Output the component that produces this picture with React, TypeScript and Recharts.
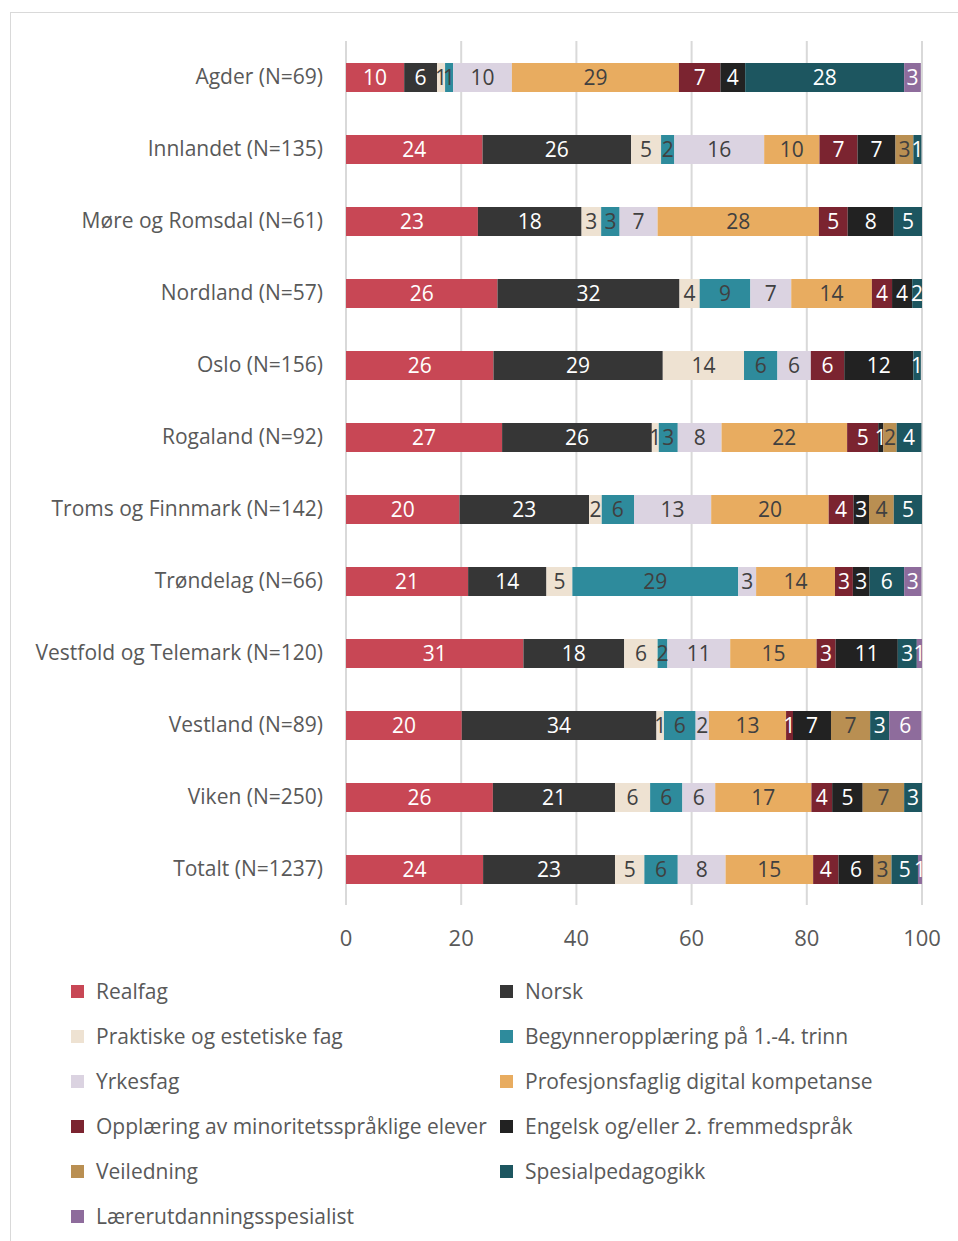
import { BarChart, Bar, XAxis, YAxis, CartesianGrid, LabelList } from 'recharts';

const categories = [
  'Agder (N=69)',
  'Innlandet (N=135)',
  'Møre og Romsdal (N=61)',
  'Nordland (N=57)',
  'Oslo (N=156)',
  'Rogaland (N=92)',
  'Troms og Finnmark (N=142)',
  'Trøndelag (N=66)',
  'Vestfold og Telemark (N=120)',
  'Vestland (N=89)',
  'Viken (N=250)',
  'Totalt (N=1237)',
];

const realfag = [10.1, 23.7, 22.9, 26.3, 25.6, 27.1, 19.7, 21.2, 30.8, 20.1, 25.5, 23.8];
const norsk = [5.7, 25.8, 18.0, 31.6, 29.4, 26.0, 22.5, 13.6, 17.5, 33.8, 21.2, 22.9];
const praktiske = [1.4, 5.2, 3.4, 3.5, 14.1, 1.2, 2.2, 4.5, 5.8, 1.3, 6.1, 5.1];
const begynner = [1.4, 2.3, 3.2, 8.8, 5.8, 3.3, 5.6, 28.8, 1.7, 5.5, 5.6, 5.8];
const yrkesfag = [10.2, 15.6, 6.6, 7.1, 5.8, 7.6, 13.4, 3.1, 10.9, 2.3, 5.7, 8.3];
const digital = [29.0, 9.6, 28.0, 14.0, 0, 21.8, 20.4, 13.7, 15.0, 13.4, 16.7, 15.2];
const minoritet = [7.2, 6.6, 5.0, 3.5, 5.8, 5.4, 4.3, 3.1, 3.3, 1.2, 3.6, 4.4];
const engelsk = [4.3, 6.6, 8.0, 3.5, 12.0, 0.9, 2.7, 2.9, 10.8, 6.6, 5.3, 6.1];
const veiledning = [0, 3.1, 0, 0, 0, 2.3, 4.3, 0, 0, 6.8, 7.2, 3.1];
const spesialped = [27.6, 1.4, 5.0, 1.7, 1.3, 4.3, 4.9, 6.0, 3.3, 3.3, 3.1, 4.6];
const spesialist = [2.9, 0, 0, 0, 0, 0, 0, 3.0, 0.9, 5.6, 0, 0.7];

const xTicks = [0, 20, 40, 60, 80, 100];

const FONT = '"Open Sans", sans-serif';
const TEXT = '#595959';

const series = [
  { key: 'realfag', name: 'Realfag', values: realfag, color: '#C84755', label: '#ffffff' },
  { key: 'norsk', name: 'Norsk', values: norsk, color: '#363636', label: '#ffffff' },
  { key: 'praktiske', name: 'Praktiske og estetiske fag', values: praktiske, color: '#EEE2D2', label: '#404040' },
  { key: 'begynner', name: 'Begynneropplæring på 1.-4. trinn', values: begynner, color: '#2E8B9C', label: '#404040' },
  { key: 'yrkesfag', name: 'Yrkesfag', values: yrkesfag, color: '#DBD3E1', label: '#404040' },
  { key: 'digital', name: 'Profesjonsfaglig digital kompetanse', values: digital, color: '#E8AC60', label: '#404040' },
  { key: 'minoritet', name: 'Opplæring av minoritetsspråklige elever', values: minoritet, color: '#7B2430', label: '#ffffff' },
  { key: 'engelsk', name: 'Engelsk og/eller 2. fremmedspråk', values: engelsk, color: '#222222', label: '#ffffff' },
  { key: 'veiledning', name: 'Veiledning', values: veiledning, color: '#B98F52', label: '#404040' },
  { key: 'spesialped', name: 'Spesialpedagogikk', values: spesialped, color: '#1D5660', label: '#ffffff' },
  { key: 'spesialist', name: 'Lærerutdanningsspesialist', values: spesialist, color: '#8E6C9C', label: '#ffffff' },
];

const data = categories.map((c, i) => {
  const row: Record<string, string | number> = { name: c };
  series.forEach((s) => {
    row[s.key] = s.values[i];
  });
  return row;
});

function LegendBlock() {
  return (
    <div style={{ position: 'absolute', left: 0, top: 976, width: 958, height: 260 }}>
      {series.map((s, i) => {
        const col = i % 2;
        const row = Math.floor(i / 2);
        return (
          <div
            key={s.key}
            style={{
              position: 'absolute',
              left: col === 0 ? 71 : 500,
              top: row * 45,
              height: 30,
              display: 'flex',
              alignItems: 'center',
              whiteSpace: 'nowrap',
              fontFamily: FONT,
              fontSize: 21,
              color: TEXT,
            }}
          >
            <span style={{ display: 'inline-block', width: 13, height: 13, background: s.color, marginRight: 12 }} />
            {s.name}
          </div>
        );
      })}
    </div>
  );
}

export default function App() {
  return (
    <div style={{ position: 'absolute', left: 0, top: 0, width: 958, height: 1241, overflow: 'hidden', background: '#fff' }}>
      <div
        style={{
          position: 'absolute',
          left: 10,
          top: 12,
          width: 1000,
          height: 1300,
          borderTop: '1px solid #d9d9d9',
          borderLeft: '1px solid #d9d9d9',
        }}
      />
      <BarChart
        width={958}
        height={970}
        data={data}
        layout="vertical"
        margin={{ top: 41, right: 36, bottom: 0, left: 0 }}
        style={{ position: 'absolute', left: 0, top: 0, fontFamily: FONT }}
      >
        <CartesianGrid horizontal={false} stroke="#d9d9d9" strokeWidth={2} />
        <XAxis
          type="number"
          domain={[0, 100]}
          ticks={xTicks}
          allowDataOverflow
          axisLine={false}
          tickLine={false}
          tickMargin={19}
          height={65}
          tick={{ fontSize: 22, fill: TEXT, fontFamily: FONT }}
        />
        <YAxis
          type="category"
          dataKey="name"
          width={346}
          axisLine={false}
          tickLine={false}
          tickMargin={17}
          tick={{ fontSize: 21, fill: TEXT, fontFamily: FONT }}
        />
        {series.map((s) => (
          <Bar key={s.key} dataKey={s.key} name={s.name} stackId="a" fill={s.color} barSize={29} isAnimationActive={false}>
            <LabelList
              dataKey={s.key}
              position="center"
              fill={s.label}
              fontSize={21}
              fontFamily={FONT}
              formatter={(v: number) => (v > 0 ? Math.round(v) : '')}
            />
          </Bar>
        ))}
      </BarChart>
      <LegendBlock />
    </div>
  );
}
